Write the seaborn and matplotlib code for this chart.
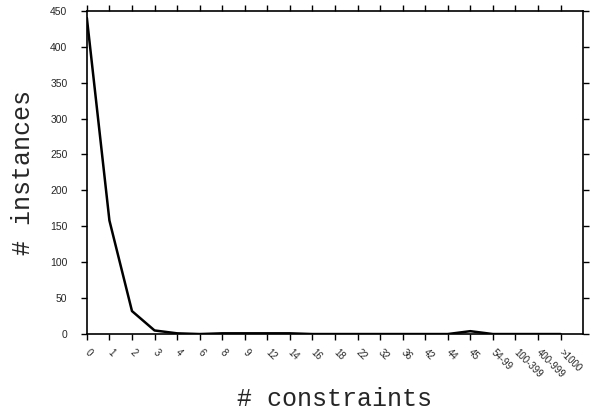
import matplotlib
matplotlib.use("Agg")
import matplotlib.pyplot as plt
import seaborn as sns
import pandas as pd
import numpy as np

# number of constraints per instance (binned)
constraints = ["0", "1", "2", "3", "4", "6", "8", "9", "12", "14", "16", "18",
               "22", "32", "36", "42", "44", "45", "54-99", "100-399", "400-999", ">1000"]
instances = [440, 158, 32, 5, 1, 0, 1, 1, 1, 1, 0, 0,
             0, 0, 0, 0, 0, 4, 0, 0, 0, 0]

df = pd.DataFrame({"pos": np.arange(len(constraints)), "count": instances})

sns.set_style("ticks")
plt.rcParams["font.family"] = ["Liberation Sans", "DejaVu Sans"]

fig = plt.figure(figsize=(5.95, 4.16), dpi=100)
ax = fig.add_axes([0.146, 0.197, 0.834, 0.777])

sns.lineplot(data=df, x="pos", y="count", color="black", linewidth=1.8, ax=ax)

ax.set_xlim(0, len(constraints))
ax.set_ylim(0, 450)
ax.set_yticks(np.arange(0, 451, 50))
ax.set_xticks(df["pos"])
ax.set_xticklabels(constraints, rotation=-45, ha="left", va="center",
                   rotation_mode="anchor", fontsize=7)
ax.tick_params(axis="y", labelsize=7.5, pad=10)
ax.tick_params(direction="out", length=4, width=1, top=True, right=True, color="black")
ax.tick_params(axis="x", pad=8)

for s in ax.spines.values():
    s.set_linewidth(1.2)
    s.set_color("black")

ax.set_xlabel("# constraints", family="Liberation Mono", fontsize=18)
ax.set_ylabel("# instances", family="Liberation Mono", fontsize=18)
ax.xaxis.set_label_coords(0.5, -0.165)
ax.yaxis.set_label_coords(-0.105, 0.5)

fig.savefig("out.png", dpi=100)
